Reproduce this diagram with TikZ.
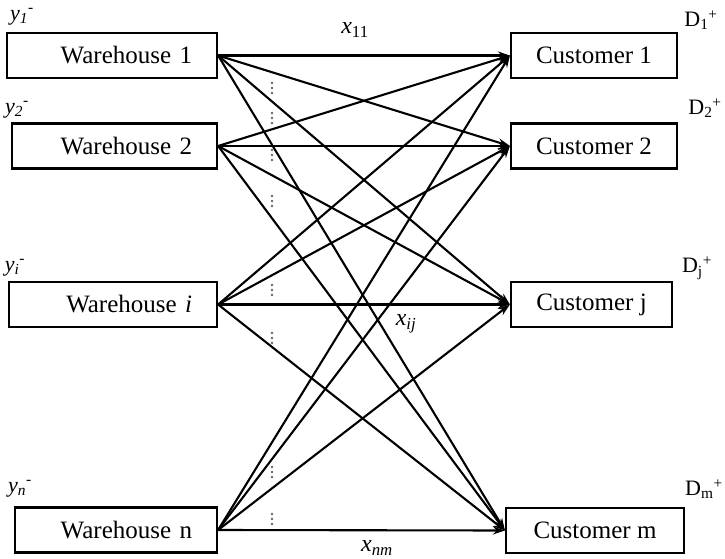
\documentclass[tikz,border=0pt]{standalone}
\usepackage{fontspec}
\setmainfont{Liberation Serif}
\usetikzlibrary{arrows.meta}
\begin{document}
\begin{tikzpicture}[x=1pt,y=-1pt,
 box/.style={draw,line width=2.2pt,minimum height=45pt,inner sep=0pt,font=\fontsize{25}{30}\selectfont},
 wbox/.style={box,align=right,inner xsep=25pt,inner ysep=0pt},
 cbox/.style={box},
 conn/.style={line width=2.1pt,-{Stealth[length=12pt,width=8pt]}},
 lab/.style={font=\fontsize{22}{26}\selectfont,inner sep=0pt},
 xlab/.style={font=\fontsize{24}{28}\selectfont,inner sep=0pt},
 dotc/.style={fill=black!60}
]
\useasboundingbox (0,0) rectangle (725,559);
% vertical ellipsis marks
\foreach \yy in {88,118,155,201,290,338,472,519}
  \foreach \d in {-5,0,5}
    \fill[dotc] (272,\yy+\d) circle (1.4);
% boxes
\node[wbox,text width=160pt] (w1) at (112,55.5) {Warehouse 1};
\node[wbox,text width=155pt] (w2) at (114.5,146) {Warehouse 2};
\node[wbox,text width=158pt] (wi) at (113,304.5) {Warehouse \textit{i}};
\node[wbox,text width=152pt] (wn) at (116,530) {Warehouse n};
\node[cbox,minimum width=166pt] (c1) at (594,55.5) {Customer 1};
\node[cbox,minimum width=166pt] (c2) at (594,146) {Customer 2};
\node[cbox,minimum width=161pt] (cj) at (591.5,304.5) {Customer j};
\node[cbox,minimum width=178pt] (cm) at (595,530.5) {Customer m};
% connectors
\foreach \a in {w1,w2,wi,wn}
  \foreach \b in {c1,c2,cj,cm}
    \draw[conn] (\a.east) -- (\b.west);
% labels
\node[lab] (ly1) at (22,17) {\textit{y\textsubscript{1}}\textsuperscript{-}};
\node[lab] (ly2) at (17,110) {\textit{y\textsubscript{2}}\textsuperscript{-}};
\node[lab] (lyi) at (15,268) {\textit{y\textsubscript{i}}\textsuperscript{-}};
\node[lab] (lyn) at (20,489) {\textit{y\textsubscript{n}}\textsuperscript{-}};
\node[lab] (ld1) at (701,20) {D\textsubscript{1}\textsuperscript{+}};
\node[lab] (ld2) at (705,108) {D\textsubscript{2}\textsuperscript{+}};
\node[lab] (ldj) at (697,268) {D\textsubscript{j}\textsuperscript{+}};
\node[lab] (ldm) at (704,489) {D\textsubscript{m}\textsuperscript{+}};
\node[xlab] (lx11) at (355,30) {\textit{x}\textsubscript{11}};
\node[xlab] (lxij) at (406,324) {\textit{x\textsubscript{ij}}};
\node[xlab] (lxnm) at (377,548) {\textit{x\textsubscript{nm}}};
\end{tikzpicture}
\end{document}
